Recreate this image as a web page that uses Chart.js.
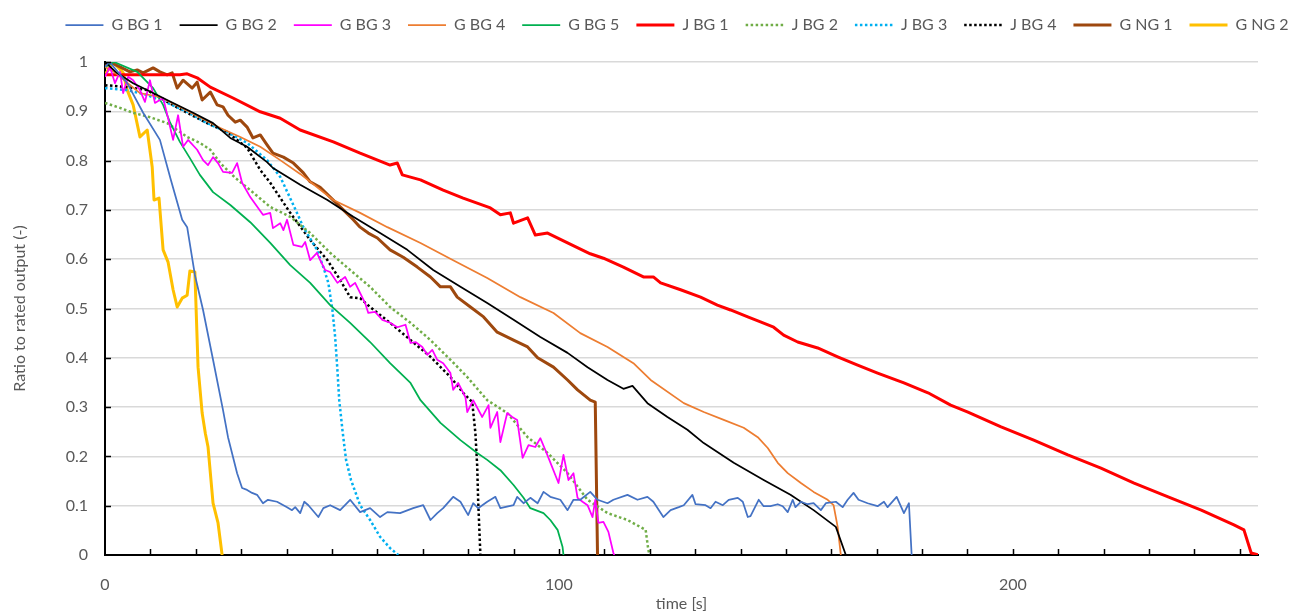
<!DOCTYPE html>
<html>
<head>
<meta charset="utf-8">
<script src="https://cdn.jsdelivr.net/npm/chart.js@4.4.1/dist/chart.umd.min.js"></script>
<style>
  html, body { margin: 0; padding: 0; background: #fff; }
  #wrap { width: 1298px; height: 615px; }
</style>
</head>
<body>
<div id="wrap"><canvas id="outputChart"></canvas></div>
<script>
// time [s] / ratio pairs
const gBg1 = [[0,0.99],[1,1.0],[4.9,0.957],[8.4,0.897],[12.1,0.842],[14.5,0.761],[17.0,0.68],[18.1,0.665],[19.8,0.568],[21.6,0.497],[23.8,0.396],[26.0,0.294],[27.1,0.239],[29.1,0.166],[30.2,0.136],[31.3,0.132],[32.4,0.126],[33.5,0.122],[34.8,0.105],[35.9,0.112],[37.9,0.108],[40.1,0.097],[41.2,0.091],[41.9,0.097],[43.0,0.085],[43.9,0.108],[44.8,0.101],[47.0,0.077],[48.1,0.095],[49.6,0.101],[51.8,0.091],[54.0,0.112],[56.2,0.087],[58.4,0.095],[60.6,0.077],[62.2,0.087],[65.0,0.085],[67.9,0.095],[70.1,0.101],[71.7,0.071],[73.2,0.085],[74.5,0.095],[76.7,0.118],[78.3,0.108],[80.0,0.081],[81.1,0.105],[82.2,0.095],[84.2,0.108],[86.0,0.118],[87.1,0.095],[90.0,0.101],[90.8,0.118],[92.2,0.105],[93.7,0.116],[95.3,0.105],[96.6,0.128],[98.1,0.118],[100.3,0.112],[101.9,0.091],[103.2,0.112],[104.7,0.112],[106.9,0.128],[108.5,0.112],[110.7,0.105],[112.0,0.112],[115.1,0.122],[117.3,0.112],[119.5,0.118],[120.8,0.108],[123.0,0.077],[124.6,0.091],[126.4,0.097],[127.5,0.101],[129.4,0.122],[130.1,0.103],[132.3,0.101],[133.4,0.095],[134.5,0.108],[136.1,0.101],[137.4,0.112],[139.4,0.116],[140.5,0.108],[141.6,0.077],[142.2,0.079],[144.0,0.112],[145.1,0.099],[146.6,0.099],[148.2,0.103],[149.3,0.099],[150.4,0.087],[151.5,0.112],[152.1,0.097],[153.3,0.108],[154.8,0.103],[156.1,0.105],[157.7,0.091],[158.8,0.105],[161.0,0.108],[162.5,0.097],[163.6,0.112],[164.9,0.126],[166.0,0.112],[168.0,0.105],[170.2,0.099],[171.6,0.108],[172.4,0.097],[174.4,0.118],[176.0,0.085],[177.1,0.105],[177.7,0]];
const gBg2 = [[0,1.0],[2.6,0.978],[6.2,0.957],[10.6,0.937],[15.0,0.917],[19.4,0.897],[23.8,0.876],[27.6,0.846],[31.3,0.828],[35.7,0.797],[37.0,0.785],[43.0,0.751],[49.0,0.72],[54.7,0.686],[60.6,0.653],[66.6,0.619],[72.3,0.578],[78.3,0.544],[84.2,0.511],[90.0,0.477],[95.9,0.442],[101.9,0.41],[106.3,0.381],[110.7,0.355],[114.2,0.337],[116.2,0.343],[119.5,0.308],[123.9,0.28],[128.3,0.254],[131.9,0.227],[138.5,0.187],[145.1,0.152],[151.0,0.122],[156.1,0.091],[161.0,0.057],[163.2,0]];
const gBg3 = [[0,0.97],[1.1,0.99],[2.2,0.957],[3.3,0.98],[4.0,0.937],[5.1,0.97],[6.2,0.963],[7.7,0.943],[8.8,0.919],[9.9,0.963],[11.0,0.917],[12.8,0.927],[13.9,0.886],[15.0,0.842],[16.1,0.892],[17.2,0.828],[18.3,0.842],[20.3,0.822],[21.6,0.801],[22.7,0.791],[23.8,0.807],[24.9,0.795],[26.0,0.777],[28.0,0.775],[29.1,0.795],[30.2,0.755],[32.0,0.726],[34.8,0.69],[36.4,0.694],[37.0,0.663],[38.6,0.673],[39.3,0.659],[40.1,0.68],[41.5,0.629],[43.4,0.625],[44.1,0.635],[45.2,0.598],[46.7,0.613],[47.4,0.598],[48.5,0.578],[49.6,0.574],[51.2,0.552],[52.9,0.564],[54.0,0.544],[55.1,0.552],[57.3,0.511],[58.0,0.491],[59.5,0.493],[61.1,0.477],[62.8,0.471],[64.4,0.462],[66.2,0.467],[67.3,0.43],[68.4,0.432],[69.9,0.422],[71.0,0.406],[72.1,0.416],[73.2,0.396],[74.5,0.389],[76.1,0.369],[76.7,0.335],[77.8,0.349],[79.4,0.32],[79.8,0.29],[81.1,0.314],[83.1,0.28],[84.5,0.304],[84.9,0.258],[86.4,0.29],[87.1,0.229],[88.6,0.288],[89.7,0.28],[90.8,0.274],[92.0,0.197],[93.3,0.223],[94.8,0.219],[95.9,0.237],[97.0,0.213],[97.7,0.197],[99.9,0.146],[101.0,0.203],[102.1,0.152],[103.2,0.166],[104.1,0.116],[105.2,0.108],[106.3,0.101],[107.4,0.077],[108.0,0.112],[108.7,0.065],[109.8,0.067],[110.9,0.047],[112.0,0.004],[112.2,0]];
const gBg4 = [[0,0.99],[2,0.98],[7.7,0.937],[12.1,0.929],[16.5,0.909],[20.9,0.888],[25.4,0.866],[29.8,0.848],[34.2,0.828],[38.6,0.801],[43.0,0.773],[50.3,0.72],[56.2,0.694],[62.2,0.665],[69.5,0.633],[76.7,0.598],[84.2,0.562],[91.5,0.523],[98.8,0.491],[104.7,0.45],[110.7,0.422],[116.4,0.389],[120.2,0.355],[127.5,0.308],[131.9,0.29],[136.3,0.274],[140.7,0.258],[143.8,0.239],[146.0,0.217],[148.2,0.187],[150.4,0.166],[153.3,0.146],[156.1,0.128],[159.2,0.112],[160.5,0.101],[161.4,0.057],[162.1,0]];
const gBg5 = [[0,0.99],[2,1.0],[7.1,0.98],[10.6,0.947],[12.8,0.913],[14.3,0.878],[16.5,0.838],[18.7,0.805],[20.9,0.771],[23.8,0.736],[27.6,0.71],[32.0,0.675],[36.4,0.633],[40.8,0.588],[45.2,0.552],[49.6,0.507],[54.0,0.471],[58.4,0.432],[62.8,0.389],[67.3,0.349],[69.5,0.314],[73.9,0.268],[78.3,0.233],[82.0,0.207],[84.2,0.193],[87.1,0.172],[90.0,0.142],[92.2,0.116],[93.7,0.095],[96.6,0.085],[98.1,0.071],[99.7,0.051],[100.8,0.016],[101.0,0]];
const jBg1 = [[0,0.974],[16.5,0.974],[18.1,0.976],[20.3,0.968],[23.2,0.949],[28.2,0.927],[34.2,0.899],[38.6,0.886],[43.0,0.862],[50.3,0.838],[56.2,0.815],[62.8,0.791],[64.4,0.795],[65.5,0.771],[69.5,0.761],[74.5,0.74],[78.9,0.724],[84.9,0.704],[87.1,0.69],[89.3,0.694],[90.0,0.673],[93.1,0.684],[94.8,0.649],[97.5,0.653],[101.9,0.633],[106.9,0.611],[109.8,0.602],[114.2,0.584],[118.6,0.564],[120.8,0.564],[122.4,0.552],[126.8,0.538],[131.2,0.523],[134.9,0.507],[137.8,0.497],[141.6,0.483],[144.4,0.473],[147.3,0.462],[149.5,0.446],[152.6,0.432],[157.0,0.42],[161.4,0.402],[165.8,0.385],[170.2,0.369],[176.0,0.349],[181.3,0.329],[186.3,0.304],[190.1,0.29],[197.4,0.26],[204.6,0.233],[212.1,0.203],[219.4,0.176],[226.7,0.146],[234.2,0.118],[241.5,0.091],[248.7,0.061],[250.9,0.051],[252.5,0.004],[254.2,0]];
const jBg2 = [[0,0.917],[3.3,0.907],[6.2,0.897],[9.9,0.888],[13.7,0.876],[18.1,0.848],[20.9,0.836],[23.2,0.822],[25.4,0.795],[28.7,0.765],[32.0,0.74],[36.4,0.706],[40.8,0.686],[45.2,0.653],[49.6,0.613],[54.0,0.578],[58.4,0.544],[62.8,0.503],[67.3,0.471],[71.7,0.436],[76.1,0.396],[79.8,0.361],[84.2,0.314],[88.6,0.288],[93.1,0.239],[97.5,0.207],[101.9,0.166],[106.3,0.112],[110.7,0.085],[115.1,0.071],[119.1,0.051],[119.7,0.01],[120.0,0]];
const jBg3 = [[0,0.947],[4.9,0.943],[9.3,0.933],[13.7,0.917],[18.1,0.899],[22.5,0.876],[26.9,0.858],[31.3,0.836],[35.7,0.801],[38.6,0.767],[41.5,0.71],[43.7,0.665],[46.7,0.619],[48.1,0.584],[49.2,0.552],[50.1,0.497],[50.7,0.442],[51.2,0.375],[51.6,0.314],[52.3,0.254],[53.1,0.193],[54.2,0.152],[56.2,0.101],[58.4,0.071],[60.6,0.037],[62.8,0.014],[64.6,0]];
const jBg4 = [[0,0.953],[4.9,0.949],[9.3,0.943],[13.7,0.919],[18.1,0.897],[22.5,0.876],[26.9,0.858],[31.3,0.826],[34.2,0.781],[36.4,0.755],[40.8,0.694],[45.2,0.639],[49.0,0.598],[51.8,0.558],[54.0,0.523],[56.2,0.521],[58.4,0.503],[62.8,0.471],[67.3,0.436],[71.7,0.402],[76.1,0.361],[78.9,0.329],[80.9,0.31],[81.6,0.247],[82.0,0.179],[82.2,0.112],[82.7,0]];
const gNg1 = [[0,0.99],[1,1.0],[3.3,0.99],[5.5,0.98],[7.1,0.984],[8.4,0.978],[10.6,0.988],[12.1,0.98],[13.7,0.974],[14.8,0.978],[15.9,0.947],[17.2,0.963],[19.2,0.947],[20.3,0.959],[21.4,0.923],[23.2,0.939],[24.7,0.913],[26.0,0.909],[27.1,0.892],[28.7,0.878],[29.8,0.882],[31.3,0.868],[32.6,0.846],[34.2,0.852],[35.7,0.832],[37.0,0.815],[39.3,0.807],[41.5,0.795],[43.7,0.775],[45.2,0.757],[47.4,0.746],[49.6,0.726],[52.5,0.7],[54.7,0.68],[56.2,0.665],[58.0,0.653],[60.0,0.643],[62.8,0.619],[65.7,0.604],[68.8,0.584],[71.7,0.564],[73.9,0.544],[76.1,0.544],[77.6,0.523],[80.5,0.503],[83.4,0.483],[86.4,0.452],[90.0,0.436],[93.1,0.422],[95.3,0.4],[98.8,0.381],[101.9,0.355],[104.1,0.335],[106.9,0.314],[108.0,0.31],[108.5,0]];
const gNg2 = [[0,0.974],[1.8,1.0],[4.0,0.978],[4.9,0.943],[6.2,0.913],[7.7,0.848],[9.3,0.862],[10.4,0.787],[10.8,0.72],[11.9,0.724],[12.8,0.619],[13.9,0.594],[15.0,0.538],[15.9,0.503],[17.0,0.521],[18.1,0.527],[18.7,0.576],[19.8,0.574],[20.5,0.381],[21.4,0.288],[22.1,0.247],[22.7,0.219],[23.8,0.105],[24.9,0.065],[25.8,0]];

const seriesNames = ['G BG 1', 'G BG 2', 'G BG 3', 'G BG 4', 'G BG 5', 'J BG 1', 'J BG 2', 'J BG 3', 'J BG 4', 'G NG 1', 'G NG 2'];
const seriesData = [gBg1, gBg2, gBg3, gBg4, gBg5, jBg1, jBg2, jBg3, jBg4, gNg1, gNg2];
const seriesColors = ['#4472C4', '#000000', '#FF00FF', '#ED7D31', '#00B050', '#FF0000', '#70AD47', '#00B0F0', '#000000', '#9E480E', '#FFC000'];
const seriesWidths = [1.75, 1.75, 1.75, 1.75, 1.75, 3, 2.5, 2.5, 2.5, 3, 3];
const dottedSeries = ['J BG 2', 'J BG 3', 'J BG 4'];

const xMax = 254;
const xMinorStep = 10;
const xLabelStep = 100;
const yStep = 0.1;

const textColor = '#595959';
const fontFamily = 'Lato, "Open Sans", sans-serif';

// short tick marks pointing into the plot, like the original
const innerTicks = {
    id: 'innerTicks',
    afterDatasetsDraw(chart) {
        const {ctx, chartArea, scales} = chart;
        ctx.save();
        ctx.strokeStyle = '#000';
        ctx.lineWidth = 1.5;
        ctx.beginPath();
        for (let t = xMinorStep; t <= xMax; t += xMinorStep) {
            const px = Math.round(scales.x.getPixelForValue(t)) + 0.5;
            ctx.moveTo(px, chartArea.bottom);
            ctx.lineTo(px, chartArea.bottom - 6);
        }
        for (let i = 1; i <= 10; i++) {
            const py = Math.round(scales.y.getPixelForValue(i * yStep)) + 0.5;
            ctx.moveTo(chartArea.left, py);
            ctx.lineTo(chartArea.left + 6, py);
        }
        ctx.stroke();
        ctx.restore();
    }
};

// fixed legend band height, one row, centred where the original has it
const legendPlacement = {
    id: 'legendPlacement',
    beforeInit(chart) {
        const fit = chart.legend.fit;
        chart.legend.fit = function () {
            this.maxWidth = 1400;
            fit.call(this);
            this.height = 62;
        };
    },
    afterLayout(chart) {
        chart.legend.left = 40;
        chart.legend.right = 1314;
    }
};

const datasets = seriesNames.map((name, i) => ({
    label: name,
    data: seriesData[i].map(p => ({x: p[0], y: p[1]})),
    borderColor: seriesColors[i],
    backgroundColor: seriesColors[i],
    borderWidth: seriesWidths[i],
    borderDash: dottedSeries.includes(name) ? [2.5, 2.5] : [],
    pointRadius: 0,
    tension: 0,
    borderJoinStyle: 'round',
    fill: false
}));

const ctx = document.getElementById('outputChart').getContext('2d');
const outputChart = new Chart(ctx, {
    type: 'line',
    data: { datasets: datasets },
    plugins: [innerTicks, legendPlacement],
    options: {
        responsive: true,
        maintainAspectRatio: false,
        animation: false,
        layout: { padding: { left: 0, right: 40, top: 0, bottom: 0 } },
        plugins: {
            tooltip: { enabled: false },
            legend: {
                position: 'top',
                labels: {
                    usePointStyle: true,
                    pointStyle: 'line',
                    pointStyleWidth: 38,
                    color: textColor,
                    font: { family: fontFamily, size: 16 },
                    padding: 17,
                    generateLabels(chart) {
                        const items = Chart.defaults.plugins.legend.labels.generateLabels(chart);
                        items.forEach(item => {
                            const ds = chart.data.datasets[item.datasetIndex];
                            item.lineDash = ds.borderDash;
                            item.lineWidth = ds.borderWidth;
                            item.strokeStyle = ds.borderColor;
                        });
                        return items;
                    }
                }
            }
        },
        scales: {
            x: {
                type: 'linear',
                min: 0,
                max: xMax,
                grid: { display: false, drawTicks: false },
                border: { color: '#000', width: 2 },
                ticks: {
                    stepSize: xMinorStep,
                    autoSkip: false,
                    maxRotation: 0,
                    padding: 20,
                    color: textColor,
                    font: { family: fontFamily, size: 16 },
                    callback: v => (v % xLabelStep === 0 ? String(v) : '')
                },
                title: {
                    display: true,
                    text: 'time [s]',
                    color: textColor,
                    font: { family: fontFamily, size: 16 },
                    padding: { top: 0, bottom: 2 }
                },
                afterFit(scale) { scale.height = 60; }
            },
            y: {
                min: 0,
                max: 1,
                grid: { color: '#D9D9D9', lineWidth: 1.5, drawTicks: false },
                border: { color: '#000', width: 2 },
                ticks: {
                    stepSize: yStep,
                    padding: 17,
                    color: textColor,
                    font: { family: fontFamily, size: 16 },
                    callback: v => String(Math.round(v * 10) / 10)
                },
                title: {
                    display: true,
                    text: 'Ratio to rated output (-)',
                    color: textColor,
                    font: { family: fontFamily, size: 16 },
                    padding: { top: 10, bottom: 0 }
                },
                afterFit(scale) { scale.width = 105; }
            }
        }
    }
});
</script>
</body>
</html>
